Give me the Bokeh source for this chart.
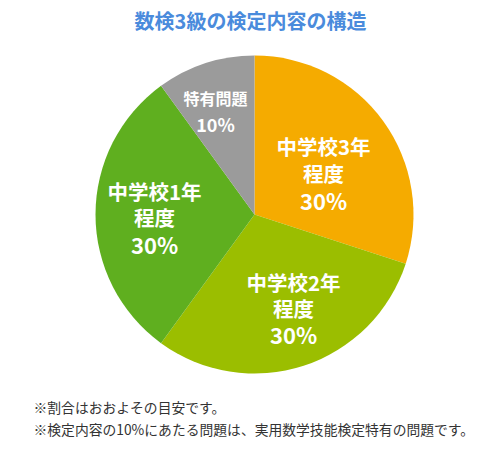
import math
from bokeh.plotting import figure
from bokeh.models import Range1d
from bokeh.core.properties import value
from bokeh.embed import file_html
from bokeh.resources import INLINE

# ---- data ----
categories = ["中学校3年程度", "中学校2年程度", "中学校1年程度", "特有問題"]
shares = [30, 30, 30, 10]
colors = ["#F5AB00", "#9BBE00", "#5FAF1F", "#9B9B9B"]
label_line1 = ["中学校3年", "中学校2年", "中学校1年", "特有問題"]
label_line2 = ["程度", "程度", "程度", ""]
label_pct = ["30%", "30%", "30%", "10%"]
title_text = "数検3級の検定内容の構造"
notes = ["※割合はおおよその目安です。",
         "※検定内容の10%にあたる問題は、実用数学技能検定特有の問題です。"]

W, H = 492, 440
FONT = "Noto Sans CJK JP"

def X(px):
    return px

def Y(py):
    return H - py

p = figure(width=W, height=H, output_backend="svg", toolbar_location=None,
           x_range=Range1d(0, W), y_range=Range1d(0, H), min_border=0)
p.axis.visible = False
p.grid.visible = False
p.outline_line_color = None
p.background_fill_color = "white"
p.border_fill_color = "white"

# pie
cx, cy, r = X(254), Y(214), 159
total = sum(shares)
start = math.pi / 2
starts, ends = [], []
for s in shares:
    a = 2 * math.pi * s / total
    starts.append(start - a)
    ends.append(start)
    start -= a
p.wedge(x=[cx] * len(shares), y=[cy] * len(shares), radius=r,
        start_angle=starts, end_angle=ends, direction="anticlock",
        fill_color=colors, line_color=None)

# labels (layout positions in screen px)
lab_pos = [(323, 145, 172, 199), (293, 281, 307, 333), (154, 190, 216, 243), (215, 97, 97, 123)]
for i in range(len(shares)):
    lx, y1, y2, y3 = lab_pos[i]
    big = i < 3
    p.text(x=[X(lx)], y=[Y(y1)], text=[label_line1[i]], text_color="white",
           text_font=value(FONT), text_font_style="bold",
           text_font_size="20.5px" if big else "16px",
           text_align="center", text_baseline="middle")
    if label_line2[i]:
        p.text(x=[X(lx)], y=[Y(y2)], text=[label_line2[i]], text_color="white",
               text_font=value(FONT), text_font_style="bold", text_font_size="20.5px",
               text_align="center", text_baseline="middle")
    p.text(x=[X(lx)], y=[Y(y3)], text=[label_pct[i]], text_color="white",
           text_font=value(FONT), text_font_style="bold",
           text_font_size="22px" if big else "18px",
           text_align="center", text_baseline="middle")

# title
p.text(x=[X(250)], y=[Y(20)], text=[title_text], text_color="#4A8BDC",
       text_font=value(FONT), text_font_style="bold", text_font_size="20px",
       text_align="center", text_baseline="middle")

# notes
p.text(x=[X(33), X(33)], y=[Y(406), Y(428)], text=notes, text_color="#333333",
       text_font=value(FONT), text_font_size="13.8px",
       text_align="left", text_baseline="middle")

open("out.html", "w").write(file_html(p, INLINE))
